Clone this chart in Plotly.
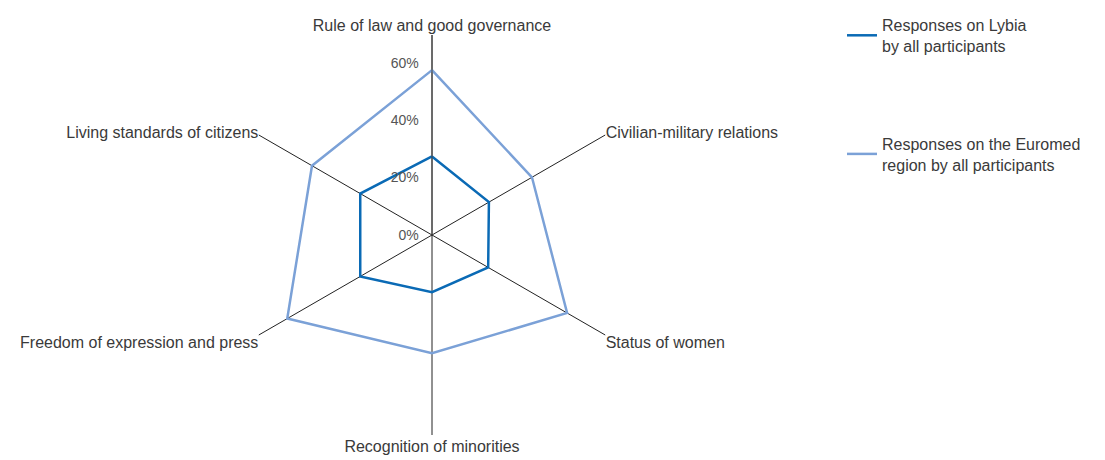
import plotly.graph_objects as go

# data (percent of responses)
categories = ['Rule of law and good governance', 'Civilian-military relations', 'Status of women',
              'Recognition of minorities', 'Freedom of expression and press', 'Living standards of citizens']
lybia = [27.5, 23, 22.7, 20, 29, 29]
euromed = [57.7, 40.4, 54.6, 41.4, 58.5, 48.5]
radial_ticks = [0, 20, 40, 60]
radial_labels = ['0%', '20%', '40%', '60%']

series_names = ['Responses on Lybia<br>by all participants',
                'Responses on the Euromed<br>region by all participants']
colors = ['#0a6ab5', '#7ba1d7']

fig = go.Figure()
for name, vals, col, grp in zip(series_names, [lybia, euromed], colors, ['a', 'b']):
    fig.add_trace(go.Scatterpolar(
        r=vals + vals[:1],
        theta=categories + categories[:1],
        mode='lines',
        name=name,
        legendgroup=grp,
        line=dict(color=col, width=2.5),
    ))

cx, cy, rad = 424, 227, 200
W, H = 1105, 460

fig.update_layout(
    width=W, height=H,
    margin=dict(l=0, r=0, t=0, b=0),
    paper_bgcolor='white',
    font=dict(family='Liberation Sans, Arial, sans-serif', size=16, color='#3a3a3a'),
    polar=dict(
        domain=dict(x=[(cx - rad) / W, (cx + rad) / W],
                    y=[(H - cy - rad) / H, (H - cy + rad) / H]),
        bgcolor='white',
        angularaxis=dict(
            direction='clockwise', rotation=90,
            showline=False, showgrid=True, gridcolor='#222222', gridwidth=1,
            ticks='', tickfont=dict(size=16, color='#3a3a3a'),
        ),
        radialaxis=dict(
            range=[0, 70], angle=90, side='counterclockwise',
            tickvals=radial_ticks,
            ticktext=[t + '\u00a0\u00a0' for t in radial_labels], tickangle=90,
            showgrid=False, showline=True, linecolor='#444444', linewidth=1,
            ticks='', tickfont=dict(size=14, color='#555555'),
        ),
    ),
    showlegend=True,
    legend=dict(
        x=834 / W, y=1.0, xanchor='left', yanchor='top',
        font=dict(size=16, color='#3a3a3a'),
        tracegroupgap=74, traceorder='grouped',
        bgcolor='rgba(0,0,0,0)',
    ),
)

fig.write_html('out.html')
